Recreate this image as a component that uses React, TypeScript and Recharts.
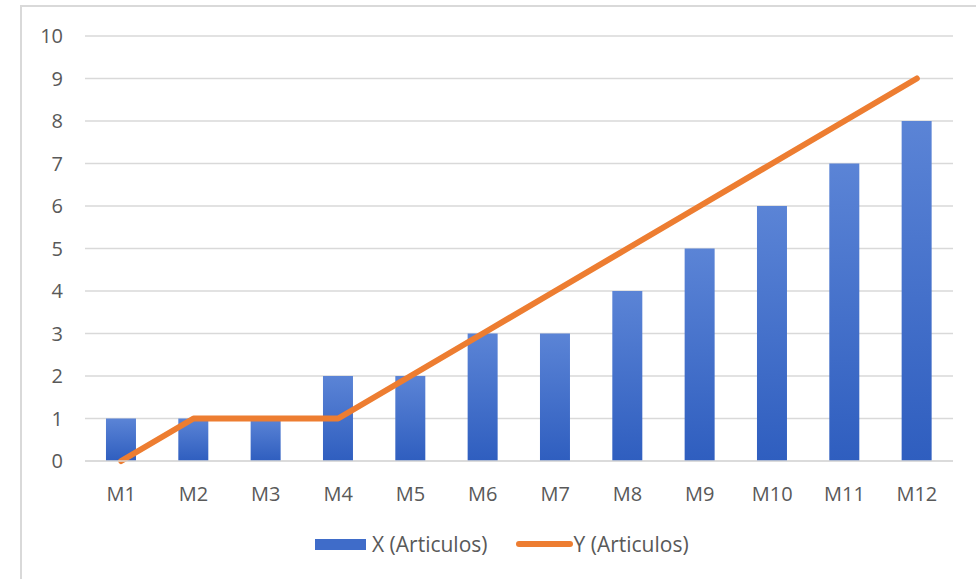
import { ComposedChart, Bar, Line, XAxis, YAxis, CartesianGrid } from 'recharts'

const months = ['M1', 'M2', 'M3', 'M4', 'M5', 'M6', 'M7', 'M8', 'M9', 'M10', 'M11', 'M12']
const xArticulos = [1, 1, 1, 2, 2, 3, 3, 4, 5, 6, 7, 8]
const yArticulos = [0, 1, 1, 1, 2, 3, 4, 5, 6, 7, 8, 9]
const yTicks = [0, 1, 2, 3, 4, 5, 6, 7, 8, 9, 10]

const data = months.map((m, i) => ({ name: m, x: xArticulos[i], y: yArticulos[i] }))

const FONT = '"Open Sans", "Noto Sans", sans-serif'
const TEXT = '#595959'

export default function App() {
  return (
    <div style={{ position: 'absolute', left: 0, top: 0, width: 976, height: 579, background: '#fff', fontFamily: FONT, overflow: 'hidden' }}>
      {/* chart frame */}
      <div style={{ position: 'absolute', left: 20, top: 5, width: 980, height: 600, border: '2px solid #d9d9d9', boxSizing: 'border-box' }} />
      <div style={{ position: 'absolute', left: 0, top: 0 }}>
        <ComposedChart width={976} height={579} data={data} margin={{ top: 36, right: 23, bottom: 88, left: 0 }} barCategoryGap="29%">
          <defs>
            <linearGradient id="barFill" x1="0" y1="0" x2="0" y2="1">
              <stop offset="0%" stopColor="#5b84d6" />
              <stop offset="100%" stopColor="#2f5ebf" />
            </linearGradient>
          </defs>
          <CartesianGrid vertical={false} stroke="#d9d9d9" strokeWidth={1.5} />
          <XAxis
            dataKey="name"
            height={30}
            tickLine={false}
            axisLine={{ stroke: '#d9d9d9', strokeWidth: 1.5 }}
            tickSize={0}
            tickMargin={26}
            tick={{ fill: TEXT, fontSize: 20, fontFamily: FONT }}
          />
          <YAxis
            width={85}
            domain={[0, 10]}
            ticks={yTicks}
            interval={0}
            tickLine={false}
            axisLine={false}
            tickSize={0}
            tickMargin={22}
            tick={{ fill: TEXT, fontSize: 20, fontFamily: FONT }}
          />
          <Bar dataKey="x" fill="url(#barFill)" isAnimationActive={false} />
          <Line
            dataKey="y"
            type="linear"
            stroke="#ed7d31"
            strokeWidth={6}
            strokeLinecap="round"
            strokeLinejoin="round"
            dot={false}
            activeDot={false}
            isAnimationActive={false}
          />
        </ComposedChart>
      </div>
      {/* legend */}
      <div style={{ position: 'absolute', top: 530, left: 315, display: 'flex', alignItems: 'center', fontSize: 21, color: TEXT, whiteSpace: 'nowrap' }}>
        <span style={{ display: 'inline-block', width: 51, height: 11, background: '#3f6cc9', marginRight: 6 }} />
        <span>X (Articulos)</span>
        <span style={{ display: 'inline-block', width: 57, height: 6, borderRadius: 3, background: '#ed7d31', marginLeft: 28, marginRight: 1 }} />
        <span>Y (Articulos)</span>
      </div>
    </div>
  )
}
